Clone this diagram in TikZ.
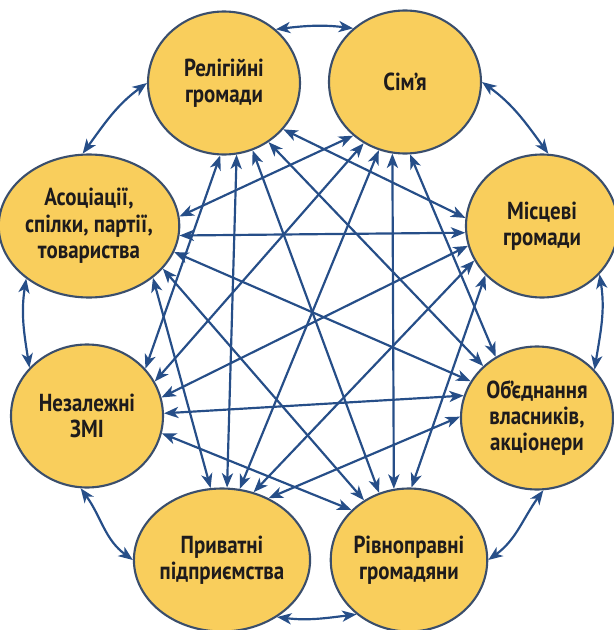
\documentclass[tikz,border=0pt]{standalone}
\usepackage{fontspec}
\setmainfont{PT Sans}[FakeStretch=0.85]
\usetikzlibrary{shapes.geometric,arrows.meta}

\definecolor{nodefill}{RGB}{249,206,92}
\definecolor{nodeline}{RGB}{58,78,108}
\definecolor{nodetext}{RGB}{30,27,28}
\definecolor{linkblue}{RGB}{38,78,136}

\begin{document}
\begin{tikzpicture}
        \tikzstyle{every node}=[ellipse, fill=nodefill, draw=nodeline, line width=1.5pt, minimum width=3.8cm, minimum height=3.575cm, inner sep=0pt, align=center, font=\bfseries\fontsize{17.5}{18.8}\selectfont, text=nodetext]
        \tikzstyle{link}=[linkblue, line width=1.55pt, <->, >={Stealth[length=3.6mm,width=2.8mm,inset=1mm]}]

        \useasboundingbox (-7.85,-7.725) rectangle (7.5,8.025);

        \node (rel) at (-2.25,5.95) {Релігійні\\громади};
        \node (sim) at (2.275,5.975) {Сім’я};
        \node (mis) at (5.7,2.375) {Місцеві\\громади};
        \node (obj) at (5.575,-2.425) {Об’єднання\\власників,\\акціонери};
        \node (riv) at (2.375,-5.975) {Рівноправні\\громадяни};
        \node (pryv) at (-2.3,-5.975) {Приватні\\підприємства};
        \node (zmi) at (-5.675,-2.375) {Незалежні\\ЗМІ};
        \node (asoc) at (-5.625,2.375) {Асоціації,\\спілки, партії,\\товариства};

        % outer ring
        \draw[link] (rel.46) to[out=7,in=173] (sim.134);
        \draw[link] (sim.0) to[out=-36,in=126] (mis.85);
        \draw[link] (mis.-40) to[out=-81,in=81] (obj.40);
        \draw[link] (obj.-85) to[out=-126,in=36] (riv.0);
        \draw[link] (riv.-134) to[out=-173,in=-7] (pryv.-46);
        \draw[link] (pryv.180) to[out=144,in=-54] (zmi.-95);
        \draw[link] (zmi.140) to[out=99,in=-99] (asoc.-140);
        \draw[link] (asoc.95) to[out=54,in=-144] (rel.180);

        % inner links
        \draw[link] (zmi.39) -- (rel.-93);
        \draw[link] (zmi.27) -- (sim.-124);
        \draw[link] (zmi.14) -- (mis.195);
        \draw[link] (zmi.2) -- (obj.163);
        \draw[link] (zmi.-13) -- (riv.139);
        \draw[link] (asoc.6) -- (sim.-134);
        \draw[link] (asoc.-6) -- (mis.185);
        \draw[link] (asoc.-17) -- (obj.151);
        \draw[link] (asoc.-30) -- (riv.127);
        \draw[link] (asoc.-39) -- (pryv.99);
        \draw[link] (rel.-80) -- (pryv.86);
        \draw[link] (rel.-67) -- (riv.114);
        \draw[link] (rel.-53) -- (obj.136);
        \draw[link] (rel.-38) -- (mis.174);
        \draw[link] (sim.-111) -- (pryv.76);
        \draw[link] (sim.-100) -- (riv.102);
        \draw[link] (sim.-86) -- (obj.124);
        \draw[link] (mis.207) -- (pryv.65);
        \draw[link] (mis.221) -- (riv.88);
        \draw[link] (obj.179) -- (pryv.53);
    \end{tikzpicture}
\end{document}
